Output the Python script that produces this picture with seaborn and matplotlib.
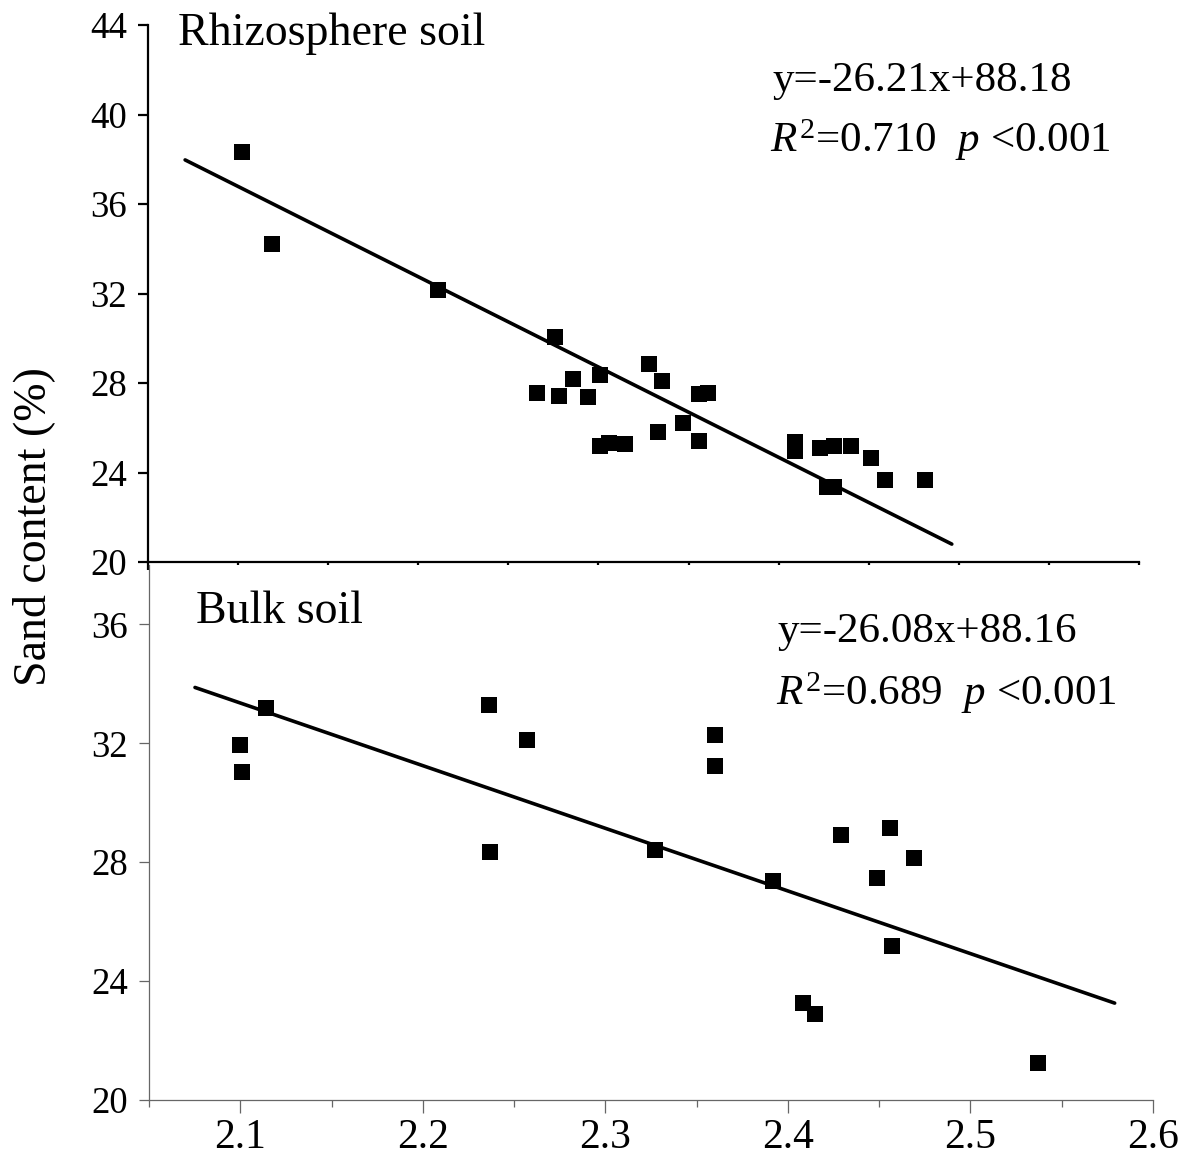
import numpy as np
import pandas as pd
import matplotlib
matplotlib.use('Agg')
import matplotlib.pyplot as plt
from matplotlib.ticker import MultipleLocator
import seaborn as sns

# Dados: solo rizosférico (painel superior)
rhizo_x = [2.102, 2.119, 2.211, 2.266, 2.276, 2.278, 2.286, 2.294, 2.301, 2.301,
           2.306, 2.315, 2.328, 2.335, 2.333, 2.347, 2.356, 2.356, 2.361, 2.409,
           2.409, 2.423, 2.431, 2.440, 2.427, 2.431, 2.451, 2.459, 2.481]
rhizo_y = [38.32, 34.21, 32.16, 27.55, 30.06, 27.42, 28.18, 27.37, 28.36, 25.18,
           25.32, 25.27, 28.85, 28.09, 25.81, 26.21, 25.41, 27.51, 27.55, 25.36,
           24.96, 25.09, 25.18, 25.18, 23.35, 23.35, 24.65, 23.66, 23.66]
rhizo_fit_x = [2.0706, 2.4961]
rhizo_fit_y = [37.97, 20.80]

# Solo bulk (painel inferior)
bulk_x = [2.100, 2.101, 2.114, 2.236, 2.237, 2.257, 2.327, 2.360, 2.360, 2.392,
          2.408, 2.415, 2.429, 2.449, 2.456, 2.457, 2.469, 2.537]
bulk_y = [31.93, 31.03, 33.18, 33.28, 28.34, 32.10, 28.40, 32.27, 31.23, 27.36,
          23.26, 22.89, 28.91, 27.46, 29.14, 25.18, 28.13, 21.24]
bulk_fit_x = [2.0752, 2.579]
bulk_fit_y = [33.88, 23.26]

rhizo_yticks = [20, 24, 28, 32, 36, 40, 44]
bulk_yticks = [20, 24, 28, 32, 36]
x_ticks = [2.1, 2.2, 2.3, 2.4, 2.5, 2.6]

sns.set_style('ticks')
plt.rcParams['font.family'] = ['Liberation Serif', 'DejaVu Serif']
plt.rcParams['mathtext.fontset'] = 'custom'
plt.rcParams['mathtext.rm'] = 'Liberation Serif'
plt.rcParams['mathtext.it'] = 'Liberation Serif:italic'
for k in ['text.color', 'axes.labelcolor', 'xtick.color', 'ytick.color']:
    plt.rcParams[k] = 'black'

W, H = 1181, 1158
fig = plt.figure(figsize=(W / 100, H / 100), dpi=100)

ax1 = fig.add_axes([148 / W, 1 - 562 / H, (1139 - 148) / W, (562 - 25) / H])
ax2 = fig.add_axes([149 / W, 1 - 1100 / H, (1153 - 149) / W, (1100 - 565) / H])

df_r = pd.DataFrame({'x': rhizo_x, 'y': rhizo_y})
df_b = pd.DataFrame({'x': bulk_x, 'y': bulk_y})

sns.scatterplot(data=df_r, x='x', y='y', marker='s', s=135, color='black',
                linewidth=0, ax=ax1, zorder=3)
sns.lineplot(x=rhizo_fit_x, y=rhizo_fit_y, color='black', linewidth=2.6, ax=ax1)

sns.scatterplot(data=df_b, x='x', y='y', marker='s', s=135, color='black',
                linewidth=0, ax=ax2, zorder=3)
sns.lineplot(x=bulk_fit_x, y=bulk_fit_y, color='black', linewidth=2.6, ax=ax2)

# Painel superior: eixos pretos e grossos, sem rótulos no eixo x
ax1.set_xlim(2.05, 2.6)
ax1.set_ylim(20, 44)
ax1.set_yticks(rhizo_yticks)
ax1.set_xticks(x_ticks)
ax1.xaxis.set_minor_locator(MultipleLocator(0.05))
ax1.tick_params(axis='x', which='major', length=10, width=1.6, color='black',
                labelbottom=False)
ax1.tick_params(axis='x', which='minor', length=6, width=1.6, color='black')
ax1.tick_params(axis='y', length=7, width=1.6, color='black', labelcolor='black',
                labelsize=26.5, pad=8)
for side in ['left', 'bottom']:
    ax1.spines[side].set_linewidth(1.6)
    ax1.spines[side].set_color('black')
ax1.set_xlabel('')
ax1.set_ylabel('')

# Painel inferior: eixos cinza finos
ax2.set_xlim(2.05, 2.6)
ax2.set_ylim(20, 38)
ax2.set_yticks(bulk_yticks)
ax2.set_xticks(x_ticks)
ax2.set_xticklabels([f'{v:.1f}' for v in x_ticks])
ax2.xaxis.set_minor_locator(MultipleLocator(0.05))
ax2.tick_params(axis='x', which='major', length=9, width=0.9, color='#666666',
                labelcolor='black', labelsize=30, pad=4)
ax2.tick_params(axis='x', which='minor', length=5, width=0.9, color='#666666')
ax2.tick_params(axis='y', length=7, width=0.9, color='#666666', labelcolor='black',
                labelsize=26.5, pad=8)
for side in ['left', 'bottom']:
    ax2.spines[side].set_linewidth(0.9)
    ax2.spines[side].set_color('#666666')
ax2.set_xlabel('')
ax2.set_ylabel('')

sns.despine(ax=ax1)
sns.despine(ax=ax2)

# Textos
fig.text(178 / W, 1 - 45 / H, 'Rhizosphere soil', fontsize=33, va='baseline')
fig.text(772 / W, 1 - 91 / H, 'y=-26.21x+88.18', fontsize=31, va='baseline')
fig.text(770 / W, 1 - 152 / H, r'$R^{2}$=0.710  $p$ <0.001', fontsize=31, va='baseline')

fig.text(196 / W, 1 - 623 / H, 'Bulk soil', fontsize=33, va='baseline')
fig.text(778 / W, 1 - 642 / H, 'y=-26.08x+88.16', fontsize=31, va='baseline')
fig.text(776 / W, 1 - 705 / H, r'$R^{2}$=0.689  $p$ <0.001', fontsize=31, va='baseline')

fig.text(34 / W, 1 - 527 / H, 'Sand content (%)', fontsize=33, rotation=90,
         ha='center', va='center')

fig.savefig('out.png', dpi=100)
plt.close(fig)
